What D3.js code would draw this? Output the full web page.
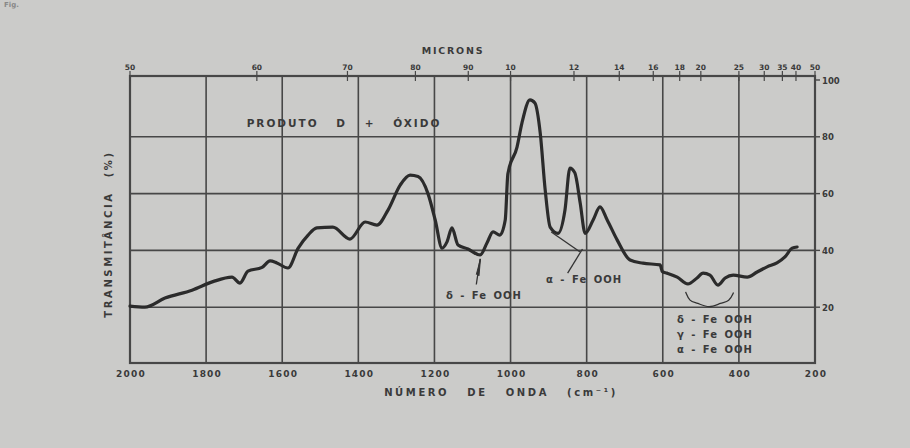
<!DOCTYPE html>
<html>
<head>
<meta charset="utf-8">
<script src="https://cdn.jsdelivr.net/npm/d3@7"></script>
<style>
body{margin:0;background:#cbcbc9;}
text{font-family:"DejaVu Sans",sans-serif;font-weight:bold;fill:#3a3a3a;}
</style>
</head>
<body>
<svg width="910" height="448"></svg>
<script>
// bottom axis (cm-1), top axis (microns), right axis (%)
var waveTicks = [2000, 1800, 1600, 1400, 1200, 1000, 800, 600, 400, 200];
var micronTicks = [5, 6, 7, 8, 9, 10, 12, 14, 16, 18, 20, 25, 30, 35, 40, 50];
var micronLabels = ["50", "60", "70", "80", "90", "10", "12", "14", "16", "18", "20", "25", "30", "35", "40", "50"];
var transTicks = [100, 80, 60, 40, 20];

// spectrum
var waveNum = [2000, 1961, 1908, 1837, 1782, 1732, 1711, 1690, 1653, 1632, 1614, 1585, 1558, 1532, 1509,
  1467, 1422, 1382, 1351, 1322, 1290, 1264, 1243, 1217, 1198, 1180, 1167, 1154, 1138, 1112, 1080,
  1062, 1046, 1028, 1014, 1007, 983, 970, 949, 936, 922, 909, 896, 875, 857, 844, 831, 817, 804,
  783, 765, 746, 720, 686, 652, 607, 601, 589, 562, 534, 510, 494, 476, 455, 436, 415, 378, 352,
  326, 300, 279, 260, 247];
var trans = [20.4, 20, 23.2, 26, 29, 30.6, 28.5, 32.7, 34, 36.3, 35.6, 33.8, 40.8, 45.4, 47.9,
  48.2, 44, 50, 48.9, 54.2, 63, 66.5, 66, 60, 50.7, 40.8, 43, 47.9, 41.9, 40.5, 38.4,
  42.6, 46.5, 45.4, 50.7, 67, 76.4, 84.9, 93, 91.9, 81.3, 61.3, 48.2, 46, 54.2, 69, 67.3, 56.7, 46,
  50.7, 55.3, 50.7, 43.7, 36.6, 35.5, 34.9, 32.5, 32, 30.6, 28.2, 30.3, 32, 31.3, 27.8, 30.3, 31.3, 30.6, 32.4,
  34.2, 35.6, 37.7, 40.8, 41.2];

var svg = d3.select("svg");
var x = d3.scaleLinear().domain([2000, 200]).range([130, 815]);
var y = d3.scaleLinear().domain([0, 100]).range([364, 80]);
var plotTop = 76, plotBottom = 363;
var ink = "#474747";

// grid
svg.selectAll(".vg").data(waveTicks.slice(1, -1)).enter().append("line")
  .attr("x1", d => x(d)).attr("x2", d => x(d))
  .attr("y1", plotTop).attr("y2", plotBottom)
  .attr("stroke", ink).attr("stroke-width", 1.6);
svg.selectAll(".hg").data(transTicks.slice(1)).enter().append("line")
  .attr("x1", x(2000)).attr("x2", x(200))
  .attr("y1", d => y(d)).attr("y2", d => y(d))
  .attr("stroke", ink).attr("stroke-width", 1.6);
svg.append("rect").attr("x", x(2000)).attr("y", plotTop)
  .attr("width", x(200) - x(2000)).attr("height", plotBottom - plotTop)
  .attr("fill", "none").attr("stroke", ink).attr("stroke-width", 2.2);

// right axis
svg.selectAll(".rt").data(transTicks).enter().append("line")
  .attr("x1", x(200)).attr("x2", x(200) + 5)
  .attr("y1", d => y(d)).attr("y2", d => y(d))
  .attr("stroke", ink).attr("stroke-width", 1.4);
svg.selectAll(".rl").data(transTicks).enter().append("text")
  .attr("x", x(200) + 7).attr("y", d => y(d) + 3.5)
  .attr("font-size", 8.5).text(d => d);

// bottom axis
svg.selectAll(".bl").data(waveTicks).enter().append("text")
  .attr("x", d => x(d) + 1).attr("y", 377)
  .attr("text-anchor", "middle").attr("font-size", 9).attr("letter-spacing", 1.2)
  .text(d => d);

// top axis (microns)
svg.selectAll(".tt").data(micronTicks).enter().append("line")
  .attr("x1", d => x(10000 / d)).attr("x2", d => x(10000 / d))
  .attr("y1", 71).attr("y2", 81)
  .attr("stroke", ink).attr("stroke-width", 1.2);
svg.selectAll(".tl").data(micronTicks).enter().append("text")
  .attr("x", d => x(10000 / d)).attr("y", 70)
  .attr("text-anchor", "middle").attr("font-size", 7.5)
  .text((d, i) => micronLabels[i]);

// titles
svg.append("text").attr("x", 453).attr("y", 54).attr("text-anchor", "middle")
  .attr("font-size", 9.5).attr("letter-spacing", 1.8).text("MICRONS");
svg.append("text").attr("x", 501).attr("y", 396).attr("text-anchor", "middle")
  .attr("font-size", 10).attr("letter-spacing", 2.6).attr("word-spacing", 12)
  .text("NÚMERO DE ONDA (cm⁻¹)");
svg.append("text").attr("transform", "translate(112,234) rotate(-90)")
  .attr("text-anchor", "middle").attr("font-size", 10).attr("letter-spacing", 2.6)
  .attr("word-spacing", 8).text("TRANSMITÂNCIA (%)");
svg.append("text").attr("x", 344).attr("y", 127).attr("text-anchor", "middle")
  .attr("font-size", 10.5).attr("letter-spacing", 2).attr("word-spacing", 12)
  .text("PRODUTO D + ÓXIDO");
svg.append("text").attr("x", 4).attr("y", 7).attr("font-size", 7).style("fill", "#888").text("Fig.");

// spectrum
var pts = waveNum.map((w, i) => [w, trans[i]]);
var line = d3.line().x(d => x(d[0])).y(d => y(d[1])).curve(d3.curveMonotoneX);
svg.append("path").datum(pts).attr("d", line)
  .attr("fill", "none").attr("stroke", "#2b2b2b").attr("stroke-width", 3.2)
  .attr("stroke-linejoin", "round").attr("stroke-linecap", "round");

// annotations
var notes = [
  {label: "δ - Fe OOH", at: [1070, 23], from: [1090, 28], to: [1080, 37]},
  {label: "α - Fe OOH", at: [807, 28.5], from: [850, 32], to: [811, 40.5]}
];
notes.forEach(function (n) {
  svg.append("line").attr("x1", x(n.from[0])).attr("y1", y(n.from[1]))
    .attr("x2", x(n.to[0])).attr("y2", y(n.to[1]))
    .attr("stroke", "#333").attr("stroke-width", 1.3);
  svg.append("text").attr("x", x(n.at[0])).attr("y", y(n.at[1]))
    .attr("text-anchor", "middle").attr("font-size", 10).attr("letter-spacing", 1)
    .attr("word-spacing", 2).text(n.label);
});
// arrowhead of the δ pointer
svg.append("path")
  .attr("d", d3.line()([[x(1090), y(31.5)], [x(1079), y(37)], [x(1083), y(31)]]))
  .attr("fill", "#333").attr("stroke", "#333").attr("stroke-width", 1);
// second stroke of the α pointer
svg.append("line").attr("x1", x(893)).attr("y1", y(46.5)).attr("x2", x(818)).attr("y2", y(39.5))
  .attr("stroke", "#333").attr("stroke-width", 1.3);

// bracket and the three labels at the bottom right
var br = [[540, 25.4], [530, 22], [510, 21.6], [478, 19.5], [447, 21.6], [425, 22], [414, 25.2]];
svg.append("path").attr("d", d3.line().x(d => x(d[0])).y(d => y(d[1])).curve(d3.curveBasis)(br))
  .attr("fill", "none").attr("stroke", "#333").attr("stroke-width", 1.3);
var bottomLabels = ["δ - Fe OOH", "γ - Fe OOH", "α - Fe OOH"];
var bottomLabelT = [14.5, 9.2, 4];
svg.selectAll(".bn").data(bottomLabels).enter().append("text")
  .attr("x", x(463)).attr("y", (d, i) => y(bottomLabelT[i]))
  .attr("text-anchor", "middle").attr("font-size", 10).attr("letter-spacing", 1)
  .attr("word-spacing", 2).text(d => d);
</script>
</body>
</html>
